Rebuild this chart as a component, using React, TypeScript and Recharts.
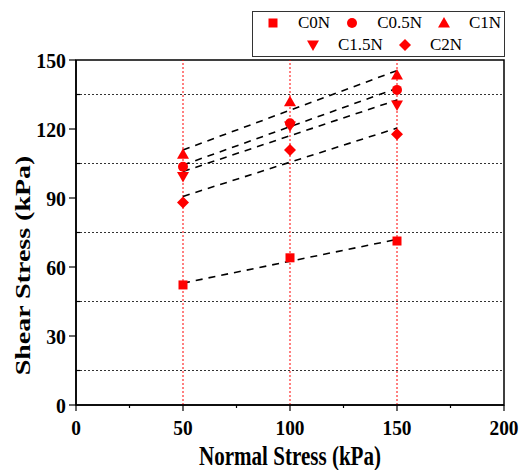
import React from 'react';
import {
  ComposedChart,
  Scatter,
  XAxis,
  YAxis,
  ReferenceLine,
  ReferenceArea,
  Legend
} from 'recharts';

// normal stress levels (kPa)
const normalStress = [50, 100, 150];

// shear stress values (kPa)
const c0n = [52.2, 64.0, 71.3];
const c05n = [103.6, 122.5, 137.0];
const c1n = [109.0, 131.9, 143.5];
const c15n = [99.3, 121.3, 130.4];
const c2n = [88.0, 110.9, 117.7];

// dashed fit lines: values at 50 and 150 kPa
const fitX = [50, 150];
const fitC0N = [53.0, 72.0];
const fitC05N = [104.3, 137.7];
const fitC1N = [110.9, 145.4];
const fitC15N = [101.5, 132.6];
const fitC2N = [90.7, 120.4];

const xTicks = [0, 25, 50, 75, 100, 125, 150, 175, 200];
const yTicks = [0, 15, 30, 45, 60, 75, 90, 105, 120, 135, 150];
const hGrid = [15, 45, 75, 105, 135];
const vGrid = [50, 100, 150];

const FONT = '"Liberation Serif", "Times New Roman", serif';
const RED = '#ff0000';

type Kind = 'square' | 'circle' | 'up' | 'down' | 'diamond';

const series: { name: string; values: number[]; fit: number[]; kind: Kind }[] = [
  { name: 'C0N', values: c0n, fit: fitC0N, kind: 'square' },
  { name: 'C0.5N', values: c05n, fit: fitC05N, kind: 'circle' },
  { name: 'C1N', values: c1n, fit: fitC1N, kind: 'up' },
  { name: 'C1.5N', values: c15n, fit: fitC15N, kind: 'down' },
  { name: 'C2N', values: c2n, fit: fitC2N, kind: 'diamond' },
];

function Marker({ cx, cy, kind }: { cx: number; cy: number; kind: Kind }) {
  if (cx == null || cy == null) return null;
  switch (kind) {
    case 'square':
      return <rect x={cx - 4.5} y={cy - 4.5} width={9} height={9} fill={RED} />;
    case 'circle':
      return <circle cx={cx} cy={cy} r={5} fill={RED} />;
    case 'up':
      return <polygon points={`${cx},${cy - 6} ${cx + 6},${cy + 4.5} ${cx - 6},${cy + 4.5}`} fill={RED} />;
    case 'down':
      return <polygon points={`${cx},${cy + 6} ${cx + 6},${cy - 4.5} ${cx - 6},${cy - 4.5}`} fill={RED} />;
    default:
      return <polygon points={`${cx},${cy - 6} ${cx + 6},${cy} ${cx},${cy + 6} ${cx - 6},${cy}`} fill={RED} />;
  }
}

function XTick(props: any) {
  const { x, y, payload } = props;
  const major = payload.value % 50 === 0;
  return (
    <g>
      <line x1={x} x2={x} y1={y} y2={y + (major ? 6 : 3)} stroke="#000" strokeWidth={1.2} />
      {major && (
        <text
          transform={`translate(${x},${y + 30}) scale(0.88,1)`}
          textAnchor="middle"
          fontFamily={FONT}
          fontWeight="bold"
          fontSize={22}
          fill="#000"
        >
          {payload.value}
        </text>
      )}
    </g>
  );
}

function YTick(props: any) {
  const { x, y, payload } = props;
  const major = payload.value % 30 === 0;
  if (!major) {
    return <line x1={x} x2={x + 4} y1={y} y2={y} stroke="#000" strokeWidth={1.2} />;
  }
  return (
    <g>
      <line x1={x - 7} x2={x} y1={y} y2={y} stroke="#000" strokeWidth={1.2} />
      <text
        transform={`translate(${x - 10},${y + 7.5}) scale(0.9,1)`}
        textAnchor="end"
        fontFamily={FONT}
        fontWeight="bold"
        fontSize={22}
        fill="#000"
      >
        {payload.value}
      </text>
    </g>
  );
}

function LegendBox() {
  const item = (s: (typeof series)[number], last: boolean) => (
    <span key={s.name} style={{ display: 'flex', alignItems: 'center', marginRight: last ? 0 : 16 }}>
      <svg width={12} height={14}>
        <Marker cx={6} cy={7} kind={s.kind} />
      </svg>
      <span style={{ marginLeft: 19 }}>{s.name}</span>
    </span>
  );
  return (
    <div
      style={{
        width: 253,
        height: 46,
        boxSizing: 'border-box',
        border: '1px solid #333',
        fontFamily: FONT,
        fontSize: 17,
        color: '#000',
        lineHeight: '22px',
      }}
    >
      <div style={{ display: 'flex', paddingLeft: 14 }}>
        {series.slice(0, 3).map((s, i) => item(s, i === 2))}
      </div>
      <div style={{ display: 'flex', paddingLeft: 54 }}>
        {series.slice(3).map((s, i) => item(s, i === 1))}
      </div>
    </div>
  );
}

export default function App() {
  return (
    <div style={{ position: 'absolute', left: 0, top: 0, background: '#fff' }}>
      <ComposedChart width={519} height={470} margin={{ top: 60, right: 15, bottom: 0, left: 0 }}>
        <XAxis
          dataKey="x"
          type="number"
          domain={[0, 200]}
          ticks={xTicks}
          interval={0}
          tickSize={0}
          tickMargin={0}
          tick={XTick}
          height={65}
          axisLine={{ stroke: '#000', strokeWidth: 1.5 }}
          tickLine={false}
          label={{
            content: (p: any) => (
              <text
                transform={`translate(${p.viewBox.x + p.viewBox.width / 2},${p.viewBox.y + 60}) scale(0.78,1)`}
                textAnchor="middle"
                fontFamily={FONT}
                fontWeight="bold"
                fontSize={27}
                fill="#000"
              >
                Normal Stress (kPa)
              </text>
            ),
          }}
        />
        <YAxis
          dataKey="y"
          type="number"
          domain={[0, 150]}
          ticks={yTicks}
          interval={0}
          tickSize={0}
          tickMargin={0}
          tick={YTick}
          width={76}
          axisLine={{ stroke: '#000', strokeWidth: 1.5 }}
          tickLine={false}
          label={{
            content: (p: any) => {
              const cx = 23;
              const cy = p.viewBox.y + p.viewBox.height / 2 + 33;
              return (
                <text
                  transform={`translate(${cx},${cy}) scale(0.78,1) rotate(-90)`}
                  textAnchor="middle"
                  dominantBaseline="central"
                  fontFamily={FONT}
                  fontWeight="bold"
                  fontSize={28}
                  fill="#000"
                >
                  Shear Stress (kPa)
                </text>
              );
            },
          }}
        />
        {hGrid.map((v) => (
          <ReferenceLine key={`h${v}`} y={v} stroke="#333" strokeWidth={1} strokeDasharray="2 2" />
        ))}
        {vGrid.map((v) => (
          <ReferenceLine key={`v${v}`} x={v} stroke={RED} strokeWidth={1} strokeDasharray="2 2" />
        ))}
        <ReferenceArea x1={0} x2={200} y1={0} y2={150} fill="none" stroke="#000" strokeWidth={1.5} />
        {series.map((s) => (
          <ReferenceLine
            key={`fit${s.name}`}
            segment={[
              { x: fitX[0], y: s.fit[0] },
              { x: fitX[1], y: s.fit[1] },
            ]}
            stroke="#000"
            strokeWidth={1.6}
            strokeDasharray="7 6"
          />
        ))}
        {series.map((s) => (
          <Scatter
            key={s.name}
            name={s.name}
            data={normalStress.map((x, i) => ({ x, y: s.values[i] }))}
            isAnimationActive={false}
            shape={(p: any) => <Marker cx={p.cx} cy={p.cy} kind={s.kind} />}
          />
        ))}
        <Legend
          layout="vertical"
          align="center"
          verticalAlign="middle"
          content={() => <LegendBox />}
          wrapperStyle={{ left: 252, top: 11, width: 253, height: 46 }}
        />
      </ComposedChart>
    </div>
  );
}
